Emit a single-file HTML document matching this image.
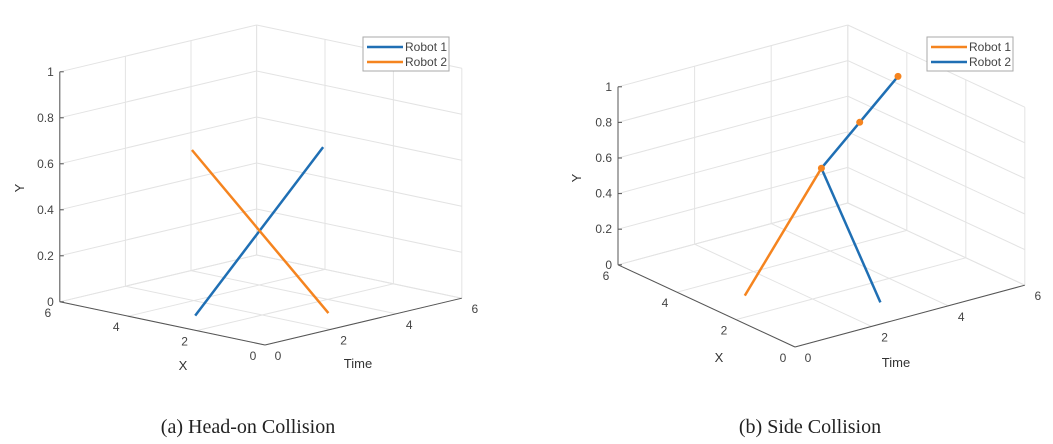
<!DOCTYPE html>
<html><head><meta charset="utf-8">
<style>
html,body{margin:0;padding:0;background:#fff;}
body{width:1053px;height:444px;overflow:hidden;position:relative;}
svg{position:absolute;left:0;top:0;}
.tick{font-family:"Liberation Sans",sans-serif;font-size:12px;fill:#444;}
.alab{font-family:"Liberation Sans",sans-serif;font-size:13px;fill:#333;}
.cap{font-family:"Liberation Serif",serif;font-size:20px;fill:#222;}
</style></head>
<body>
<svg id="fig" width="1053" height="444">
<text class="cap" x="248" y="433" text-anchor="middle">(a) Head-on Collision</text>
<text class="cap" x="810" y="433" text-anchor="middle">(b) Side Collision</text>
</svg>
<script>
// Tick values
const xTicks = [0, 2, 4, 6];
const tTicks = [0, 2, 4, 6];
const yTicks = [0, 0.2, 0.4, 0.6, 0.8, 1];
const yTickLabels = ["0", "0.2", "0.4", "0.6", "0.8", "1"];
// Chart A data: points as [X, Time, Y]
const aRobot1 = [[3, 1, 0], [3, 4.9, 0.6]];
const aRobot2 = [[4.85, 2.83, 0.6], [1.1, 3.08, 0]];
// Chart B data
const bRobot1 = [[3, 1, 0], [3, 3, 0.6]];
const bRobot2a = [[1, 3, 0], [3, 3, 0.6]];
const bRobot2b = [[3, 3, 0.6], [3, 4, 0.8], [3, 5, 1]];
const bDots = [[3, 3, 0.6], [3, 4, 0.8], [3, 5, 1]];

const BLUE = "#1f6fb4", ORANGE = "#f5841f";
const NS = "http://www.w3.org/2000/svg";
const svg = document.getElementById("fig");

function mk(tag, attrs, parent) {
  const e = document.createElementNS(NS, tag);
  for (const k in attrs) e.setAttribute(k, attrs[k]);
  (parent || svg).appendChild(e);
  return e;
}

function drawChart(P, id, series, dots, legend) {
  const g = mk("g", {});
  
  
  const pr = (x, t, y) => [P.ox + x * P.xv[0] + t * P.tv[0], P.oy + x * P.xv[1] + t * P.tv[1] + y * P.yv];
  const ln = (a, b, st, w, name) => {
    const l = mk("line", {x1: a[0], y1: a[1], x2: b[0], y2: b[1], stroke: st, "stroke-width": w}, g);
    
    
    return l;
  };
  const gc = "#e3e3e3";
  xTicks.forEach(x => ln(pr(x, 0, 0), pr(x, 6, 0), gc, 1, 'floor-grid-x'));
  tTicks.forEach(t => ln(pr(0, t, 0), pr(6, t, 0), gc, 1, 'floor-grid-time'));
  tTicks.forEach(t => ln(pr(6, t, 0), pr(6, t, 1), gc, 1, 'wall-grid-vertical'));
  yTicks.forEach(y => ln(pr(6, 0, y), pr(6, 6, y), gc, 1, 'wall-grid-y'));
  xTicks.forEach(x => ln(pr(x, 6, 0), pr(x, 6, 1), gc, 1, 'wall-grid-vertical'));
  yTicks.forEach(y => ln(pr(0, 6, y), pr(6, 6, y), gc, 1, 'wall-grid-y'));
  const ac = "#555";
  ln(pr(6, 0, 0), pr(6, 0, 1), ac, 1, 'y-axis');
  ln(pr(0, 0, 0), pr(6, 0, 0), ac, 1, 'x-axis');
  ln(pr(0, 0, 0), pr(0, 6, 0), ac, 1, 'time-axis');
  yTicks.forEach((y, i) => {
    const p = pr(6, 0, y);
    ln(p, [p[0] + 4, p[1]], ac, 1, 'y-tick');
    const t = mk("text", {x: p[0] - 6, y: p[1] + 4, "text-anchor": "end", class: "tick"}, g);
    t.textContent = yTickLabels[i];
    
    
  });
  xTicks.forEach(x => {
    const p = pr(x, 0, 0);
    const t = mk("text", {x: p[0] - 12, y: p[1] + 15, "text-anchor": "middle", class: "tick"}, g);
    t.textContent = x;
    
    
  });
  tTicks.forEach(tv => {
    const p = pr(0, tv, 0);
    const t = mk("text", {x: p[0] + 13, y: p[1] + 15, "text-anchor": "middle", class: "tick"}, g);
    t.textContent = tv;
    
    
  });
  const xl = mk("text", {x: P.xl[0], y: P.xl[1], "text-anchor": "middle", class: "alab"}, g);
  xl.textContent = "X";
  
  
  const tl = mk("text", {x: P.tl[0], y: P.tl[1], "text-anchor": "middle", class: "alab"}, g);
  tl.textContent = "Time";
  
  
  const yl = mk("text", {x: P.yl[0], y: P.yl[1], "text-anchor": "middle", class: "alab", transform: "rotate(-90 " + P.yl[0] + " " + P.yl[1] + ")"}, g);
  yl.textContent = "Y";
  
  
  series.forEach(s => {
    const pts = s.data.map(d => pr(d[0], d[1], d[2]).join(",")).join(" ");
    const pl = mk("polyline", {points: pts, fill: "none", stroke: s.color, "stroke-width": 2.5}, g);
    
    
  });
  dots.forEach(d => {
    const p = pr(d[0], d[1], d[2]);
    const c = mk("circle", {cx: p[0], cy: p[1], r: 3.5, fill: ORANGE}, g);
    
    
  });
  const L = P.leg;
  const lg = mk("g", {}, g);
  
  
  mk("rect", {x: L[0], y: L[1], width: 86, height: 34, fill: "#fff", stroke: "#aaa", "stroke-width": 1}, lg);
  legend.forEach((e, i) => {
    const yy = L[1] + 10 + i * 15;
    const l = mk("line", {x1: L[0] + 4, y1: yy, x2: L[0] + 40, y2: yy, stroke: e.color, "stroke-width": 2.5}, lg);
    
    
    const t = mk("text", {x: L[0] + 42, y: yy + 4, class: "tick", fill: "#333"}, lg);
    t.textContent = e.label;
    
    
  });
}

drawChart({ox: 265, oy: 345, xv: [-34.2, -7.2], tv: [32.8, -7.8], yv: -230,
  xl: [183, 370], tl: [358, 368], yl: [24, 188], leg: [363, 37]}, 'a',
  [{data: aRobot1, color: BLUE, name: 'robot1-line'}, {data: aRobot2, color: ORANGE, name: 'robot2-line'}],
  [], [{label: "Robot 1", color: BLUE}, {label: "Robot 2", color: ORANGE}]);

drawChart({ox: 795, oy: 347, xv: [-29.5, -13.7], tv: [38.3, -10.3], yv: -178,
  xl: [719, 362], tl: [896, 367], yl: [581, 178], leg: [927, 37]}, 'b',
  [{data: bRobot1, color: ORANGE, name: 'robot1-line'}, {data: bRobot2a, color: BLUE, name: 'robot2-line'}, {data: bRobot2b, color: BLUE, name: 'robot2-line-upper'}],
  bDots, [{label: "Robot 1", color: ORANGE}, {label: "Robot 2", color: BLUE}]);
</script>
</body></html>
